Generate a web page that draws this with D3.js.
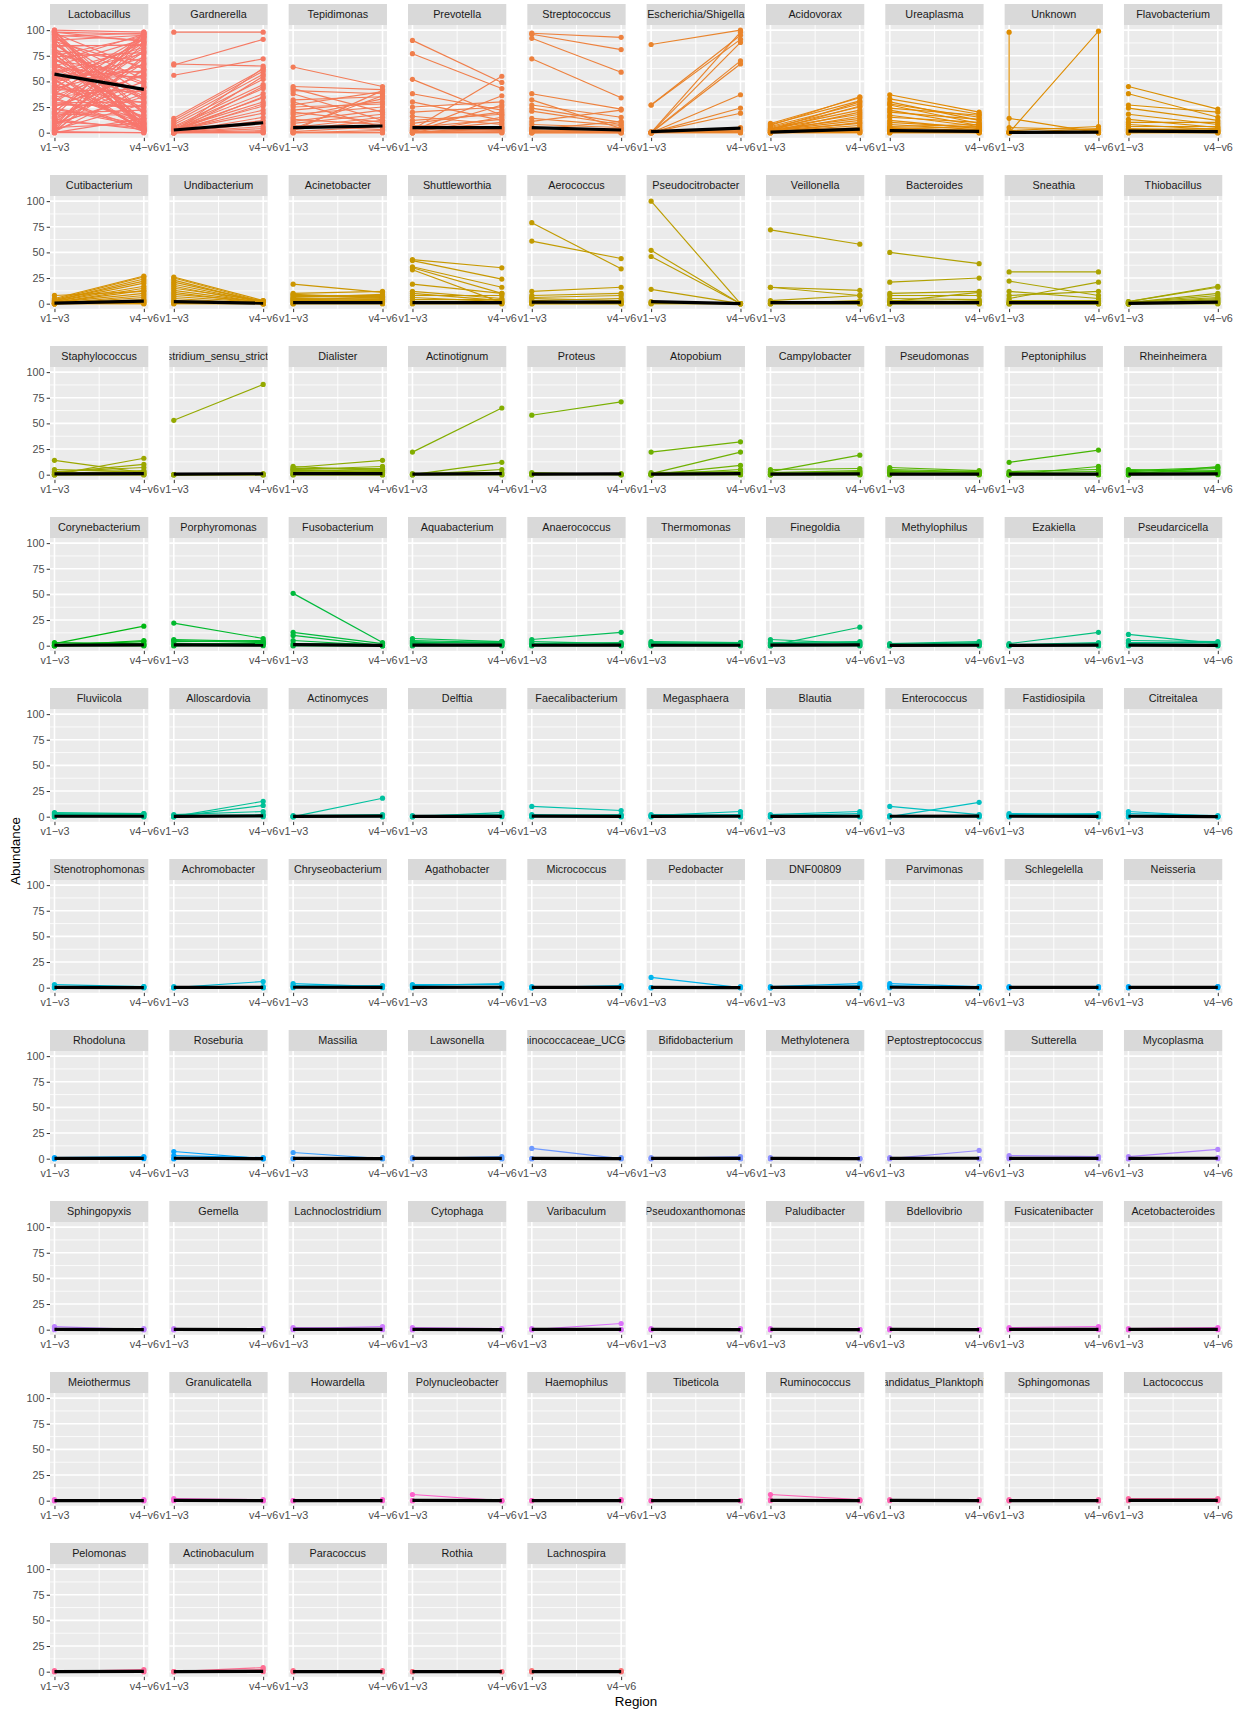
<!DOCTYPE html>
<html><head><meta charset="utf-8">
<script src="https://cdn.jsdelivr.net/npm/d3@7"></script>
<style>body{margin:0;background:#fff}svg text{font-family:"Liberation Sans",Arial,Helvetica,sans-serif}</style>
</head><body><svg id="chart" width="1245" height="1709"></svg>
<script>
// ---------------- DATA ----------------
const regions = ["v1\u2212v3", "v4\u2212v6"];
const yTicks = [0, 25, 50, 75, 100];
const genera = [
 "Lactobacillus","Gardnerella","Tepidimonas","Prevotella","Streptococcus","Escherichia/Shigella","Acidovorax","Ureaplasma","Unknown","Flavobacterium",
 "Cutibacterium","Undibacterium","Acinetobacter","Shuttleworthia","Aerococcus","Pseudocitrobacter","Veillonella","Bacteroides","Sneathia","Thiobacillus",
 "Staphylococcus","Clostridium_sensu_stricto_1","Dialister","Actinotignum","Proteus","Atopobium","Campylobacter","Pseudomonas","Peptoniphilus","Rheinheimera",
 "Corynebacterium","Porphyromonas","Fusobacterium","Aquabacterium","Anaerococcus","Thermomonas","Finegoldia","Methylophilus","Ezakiella","Pseudarcicella",
 "Fluviicola","Alloscardovia","Actinomyces","Delftia","Faecalibacterium","Megasphaera","Blautia","Enterococcus","Fastidiosipila","Citreitalea",
 "Stenotrophomonas","Achromobacter","Chryseobacterium","Agathobacter","Micrococcus","Pedobacter","DNF00809","Parvimonas","Schlegelella","Neisseria",
 "Rhodoluna","Roseburia","Massilia","Lawsonella","Ruminococcaceae_UCG-014","Bifidobacterium","Methylotenera","Peptostreptococcus","Sutterella","Mycoplasma",
 "Sphingopyxis","Gemella","Lachnoclostridium","Cytophaga","Varibaculum","Pseudoxanthomonas","Paludibacter","Bdellovibrio","Fusicatenibacter","Acetobacteroides",
 "Meiothermus","Granulicatella","Howardella","Polynucleobacter","Haemophilus","Tibeticola","Ruminococcus","Candidatus_Planktophila","Sphingomonas","Lactococcus",
 "Pelomonas","Actinobaculum","Paracoccus","Rothia","Lachnospira"
];
// abundance per sample at region v1-v3 (paired with v46 below)
const v13 = [
 [100,99,98,97,96,95,93,90,88,85,83,80,78,75,73,70,68,65,63,60,58,55,53,50,48,45,43,40,38,35,33,30,28,25,23,20,18,15,13,10,8,6,5,4,3,2,1,0,0,0,99,92,86,77,66,52,41,27,12,2,
  100,98,96,94,91,89,87,84,81,79,76,74,71,69,67,64,62,59,57,54,51,49,46,44,42,39,36,34,31,29,26,24,21,19,16,14,11,9,7,1],
 [98,67,66,56,14,12,10,8,6,5,4,3,3,2,2,2,1,1,1,1,0,0,0,0,0,0,0,0,0,0],
 [64,45,43,41,38,32,30,27,25,22,20,18,15,13,11,9,7,5,4,3,2,1,0,0,0],
 [90,77,52,38,30,25,20,16,12,9,7,5,4,3,2,2,1,1,0,0,0,0,0,0],
 [97,96,92,72,38,32,27,24,21,14,11,8,5,4,3,2,1,1,0,0,0,0],
 [86,27,27,0,0,0,0,0,0,0,0,0,1,0,0,0],
 [9,8,7,6,5,4,4,3,3,2,2,2,1,1,1,1,0,0,0,0,0,0],
 [37,33,30,28,27,24,22,20,17,15,12,10,8,6,5,4,3,2,1,0,0,0],
 [14,5,2,1,0,0,0,0],
 [45,38,27,24,18,13,10,8,6,4,3,2,1,0,0,0],
 [8,5,4,3,3,2,2,1,1,1,0,0,0,0,0,0,0,0],
 [26,25,23,21,19,17,15,13,11,9,7,5,3,2,0,0],
 [19,10,9,8,7,6,5,5,4,3,3,2,1,0,0,0],
 [43,42,36,35,33,19,12,10,8,6,4,2,0,0],
 [79,61,12,8,6,5,3,2,1,0,0,0],
 [100,52,46,14,2,1,0,0],
 [72,16,16,3,2,1,0,0,0,0],
 [50,21,10,8,5,3,2,1,0,0,0,0],
 [31,22,12,8,5,3,2,1,0,0,0,0],
 [2,2,1,1,1,0,0,0,0,0,0,0],
 [14,5,3,2,1,0,0,0,0,0],
 [53,0,0,0,0,0],
 [8,7,6,5,5,4,3,2,1,0,0,0],
 [22,0,0,1,0,0],
 [58,2,1,0,0],
 [22,1,0,0,2,0,0,0],
 [5,3,2,1,0,0,0,0],
 [7,5,4,3,2,1,0,0],
 [12,3,2,0,0,0,0],
 [5,4,3,2,1,0,0,0],
 [2,3,1,0,0,0,0],
 [22,6,5,4,2,0,0],
 [51,13,10,5,2,0,0],
 [7,5,4,3,2,1,0,0],
 [6,4,2,1,0,0],
 [4,3,2,1,0,0],
 [6,0,3,2,1,0,0],
 [2,1,1,0,0,0],
 [2,1,1,0,0,0],
 [11,5,3,2,0,0],
 [4,3,2,1,0,0],
 [0,0,2,1,0,0],
 [0,1,0,0,0],
 [0,1,0,0],
 [10,2,1,0,0],
 [1,2,1,0,0],
 [2,1,0,0,0],
 [10,0,1,0,0],
 [3,2,1,0,0],
 [5,3,1,0,0],
 [3,1,0,0],
 [0,1,0,0],
 [4,2,1,0],
 [3,2,1,0],
 [0,1,0,0],
 [10,0,0],
 [1,0,0,0],
 [4,2,1,0],
 [1,0,0],
 [1,0,0],
 [1,0,0],
 [7,3,0,0],
 [6,0,0],
 [0,1,0],
 [10,0,0],
 [0,1,0],
 [1,0,0],
 [0,1,0],
 [3,1,0],
 [2,0,0],
 [3,1,0],
 [1,0,0],
 [1,2,0],
 [2,0,0],
 [0,1,0],
 [1,0,0],
 [1,0,0],
 [0,1,0],
 [2,1,0],
 [1,0,0],
 [0,1,0],
 [2,1,0],
 [0,0],
 [6,0,0],
 [0,0],
 [0,0],
 [6,1,0],
 [1,0],
 [0,1,0],
 [2,1,0],
 [0,1,0],
 [0,0,0],
 [0,1,0],
 [0,0],
 [0,1,0]
];
// abundance per sample at region v4-v6
const v46 = [
 [98,4,96,62,2,90,38,95,11,85,3,70,47,94,8,58,21,91,34,2,77,14,55,88,4,29,66,9,92,44,1,80,25,57,6,93,17,50,3,72,38,97,9,87,28,62,44,14,75,0,20,52,33,6,41,2,82,26,68,93,
  7,89,18,97,5,64,31,86,2,49,13,78,36,96,10,53,24,83,1,60,4,73,16,94,40,12,67,3,88,30,56,8,79,22,98,45,5,35,61,0],
 [98,65,91,72,62,60,57,52,47,43,38,34,30,26,22,19,63,55,45,35,28,15,12,9,6,4,2,1,0,0],
 [45,42,20,38,12,35,5,40,28,30,10,25,33,8,22,18,3,15,36,12,41,6,2,0,0],
 [49,43,17,22,12,30,25,8,18,20,5,13,3,55,36,10,27,2,6,4,1,15,0,0],
 [93,81,59,34,23,4,15,10,8,7,22,5,2,3,11,1,0,4,2,0,0,0],
 [100,95,91,98,88,70,67,37,24,19,5,3,1,2,0,0],
 [34,31,35,28,25,22,18,30,14,12,26,9,20,7,5,16,3,10,2,1,0,0],
 [20,18,12,15,9,17,7,13,6,10,4,5,3,8,2,6,1,0,1,3,0,0],
 [0,3,6,1,2,4,0,0],
 [23,15,20,12,8,5,10,3,6,2,4,1,0,2,0,0],
 [12,27,26,24,22,20,17,15,13,10,8,6,4,3,2,1,0,0],
 [3,2,1,2,1,0,3,1,0,2,1,0,1,0,0,0],
 [11,12,6,8,7,9,4,6,5,3,7,2,1,4,0,0],
 [35,24,16,10,1,10,5,3,8,2,4,1,0,0],
 [34,44,16,10,8,3,5,1,2,0,0,0],
 [0,0,0,0,0,0,0,0],
 [58,13,8,8,2,1,3,0,0,0],
 [39,25,12,8,4,2,11,1,3,0,0,0],
 [31,8,5,12,21,3,2,1,0,0,0,0],
 [17,16,10,8,6,5,4,3,2,1,0,0],
 [2,3,7,10,4,16,1,0,0,0],
 [88,0,0,1,0,0],
 [4,14,6,3,8,5,2,4,1,0,0,0],
 [65,12,5,2,0,0],
 [71,0,0,1,0],
 [32,22,9,5,3,1,0,0],
 [6,19,4,2,3,1,0,0],
 [4,3,2,3,1,0,1,0],
 [24,5,3,8,1,0,0],
 [3,7,6,4,2,8,1,0],
 [19,2,4,5,1,0,0],
 [7,4,3,5,2,1,0],
 [3,2,0,0,1,0,0],
 [4,3,2,3,4,1,0,0],
 [13,2,3,1,0,0],
 [3,2,3,1,0,0],
 [2,18,4,3,1,0,0],
 [4,3,2,1,0,0],
 [13,3,1,2,0,0],
 [2,4,3,1,0,0],
 [3,2,3,1,0,0],
 [15,11,5,2,1,0],
 [18,2,1,0,0],
 [4,2,1,0],
 [6,1,2,0,0],
 [5,1,2,0,0],
 [5,3,1,0,0],
 [2,14,1,0,0],
 [2,3,1,0,0],
 [0,1,0,0,0],
 [1,0,1,0],
 [6,1,0,0],
 [1,1,2,0],
 [3,4,1,0],
 [2,1,1,0],
 [0,1,0],
 [4,2,1,0],
 [1,0,1,0],
 [1,0,0],
 [1,1,0],
 [2,1,0],
 [0,1,0,0],
 [0,1,0],
 [2,0,0],
 [0,1,0],
 [2,0,0],
 [0,0,0],
 [8,0,0],
 [2,1,0],
 [9,1,0],
 [0,1,0],
 [1,0,0],
 [3,1,0],
 [1,0,0],
 [6,0,0],
 [1,0,0],
 [0,0,0],
 [0,0,0],
 [3,1,0],
 [2,1,0],
 [1,0,0],
 [1,0,0],
 [1,0],
 [0,0,0],
 [1,0],
 [0,0],
 [1,0,0],
 [1,0],
 [1,0,0],
 [2,1,0],
 [2,0,0],
 [4,2,0],
 [1,0,0],
 [0,0],
 [1,0,0]
];
// mean abundance per region (black line)
const meanV13 = [
 57.1,2.6,4.9,4.9,4.9,1.0,0.5,2.0,0.3,1.5,
 0.5,2.0,1.0,1.0,1.5,2.0,1.0,1.0,1.0,0.3,
 0.8,0.6,1.0,0.5,0.6,0.5,0.5,0.6,0.5,0.5,
 0.4,0.8,1.0,0.6,0.4,0.4,0.5,0.3,0.3,0.5,
 0.4,0.2,0.2,0.2,0.5,0.3,0.3,0.4,0.4,0.4,
 0.3,0.2,0.4,0.3,0.2,0.3,0.2,0.4,0.2,0.2,
 0.2,0.4,0.3,0.2,0.3,0.2,0.2,0.2,0.3,0.2,
 0.3,0.2,0.3,0.3,0.2,0.2,0.2,0.2,0.3,0.2,
 0.1,0.3,0.1,0.3,0.1,0.1,0.3,0.2,0.1,0.3,
 0.1,0.1,0.1,0.1,0.1
];
const meanV46 = [
 42.2,9.7,6.5,4.9,2.6,4.5,3.5,1.3,0.5,1.0,
 2.5,0.5,1.0,1.0,1.5,0.0,1.0,1.0,1.0,1.5,
 1.0,0.9,1.0,1.0,0.7,1.0,0.8,0.5,0.6,0.8,
 0.8,0.6,0.2,0.5,0.6,0.4,0.7,0.4,0.5,0.3,
 0.4,0.7,0.5,0.3,0.3,0.4,0.4,0.5,0.3,0.1,
 0.1,0.3,0.2,0.4,0.2,0.1,0.3,0.1,0.2,0.2,
 0.2,0.1,0.1,0.2,0.1,0.2,0.0,0.4,0.2,0.4,
 0.1,0.1,0.3,0.1,0.3,0.1,0.0,0.0,0.3,0.2,
 0.1,0.1,0.1,0.0,0.1,0.0,0.1,0.1,0.1,0.3,
 0.2,0.3,0.1,0.0,0.1
];
// samples with two rows for one region (drawn as one path: [regionIndex 1|2, value])
const extraPaths = [
 { genus: "Unknown", pts: [[1,98],[1,0],[2,99],[2,0]] }
];

// ---------------- LAYOUT ----------------
const nCol = 10, colPitch = 119.33, panelW = 98.3, left0 = 50;
const rowPitch = 171, top0 = 4, stripH = 21, panelH = 112.8;
const FS = 10.8;

function hcl2hex(h, c, l) {
  const hr = h * Math.PI / 180;
  const U = c * Math.cos(hr), V = c * Math.sin(hr);
  const Xn = 95.047, Yn = 100, Zn = 108.883;
  const Y = Yn * (l > 8 ? Math.pow((l + 16) / 116, 3) : l / 903.3);
  const den = Xn + 15 * Yn + 3 * Zn;
  const un = 4 * Xn / den, vn = 9 * Yn / den;
  const u = U / (13 * l) + un, v = V / (13 * l) + vn;
  const X = 9 * Y * u / (4 * v);
  const Z = -X / 3 - 5 * Y + 3 * Y / v;
  const x = X / 100, yy = Y / 100, z = Z / 100;
  const lin = [
    3.240479 * x - 1.537150 * yy - 0.498535 * z,
    -0.969256 * x + 1.875992 * yy + 0.041556 * z,
    0.055648 * x - 0.204043 * yy + 1.057311 * z
  ];
  return "#" + lin.map(t => {
    let g = t <= 0.0031308 ? 12.92 * t : 1.055 * Math.pow(t, 1 / 2.4) - 0.055;
    g = Math.max(0, Math.min(1, g));
    return Math.round(g * 255).toString(16).padStart(2, "0");
  }).join("");
}

const svg = d3.select("#chart");
svg.append("rect").attr("width", 1245).attr("height", 1709).attr("fill", "#fff");
const n = genera.length;
const colors = genera.map((g, i) => hcl2hex(15 + i * 360 / n, 100, 65));
const defs = svg.append("defs");

genera.forEach((name, i) => {
  const col = i % nCol, row = Math.floor(i / nCol);
  const x0 = left0 + col * colPitch;
  const sTop = top0 + row * rowPitch, pTop = sTop + stripH, pBot = pTop + panelH;
  const x = d3.scaleLinear().domain([0.95, 2.05]).range([x0, x0 + panelW]);
  const y = d3.scaleLinear().domain([-5, 105]).range([pBot, pTop]);
  const g = svg.append("g");
  const color = colors[i];

  // panel background
  g.append("rect").attr("x", x0).attr("y", pTop).attr("width", panelW).attr("height", panelH).attr("fill", "#EBEBEB");
  // minor grid
  [12.5, 37.5, 62.5, 87.5].forEach(v => g.append("line").attr("x1", x0).attr("x2", x0 + panelW)
    .attr("y1", y(v)).attr("y2", y(v)).attr("stroke", "#fff").attr("stroke-width", 0.8));
  [1.5].forEach(v => g.append("line").attr("x1", x(v)).attr("x2", x(v))
    .attr("y1", pTop).attr("y2", pBot).attr("stroke", "#fff").attr("stroke-width", 0.9));
  // major grid
  yTicks.forEach(v => g.append("line").attr("x1", x0).attr("x2", x0 + panelW)
    .attr("y1", y(v)).attr("y2", y(v)).attr("stroke", "#fff").attr("stroke-width", 1.6));
  [1, 2].forEach(v => g.append("line").attr("x1", x(v)).attr("x2", x(v))
    .attr("y1", pTop).attr("y2", pBot).attr("stroke", "#fff").attr("stroke-width", 1.6));

  // strip
  defs.append("clipPath").attr("id", "clip" + i).append("rect")
    .attr("x", x0).attr("y", sTop).attr("width", panelW).attr("height", stripH);
  g.append("rect").attr("x", x0).attr("y", sTop).attr("width", panelW).attr("height", stripH).attr("fill", "#D9D9D9");
  g.append("text").attr("clip-path", "url(#clip" + i + ")")
    .attr("x", x0 + panelW / 2).attr("y", sTop + stripH / 2).attr("dy", "0.35em")
    .attr("text-anchor", "middle").attr("font-size", FS).attr("fill", "#1A1A1A").text(name);

  // data
  const a = v13[i], b = v46[i];
  const m = Math.min(a.length, b.length);
  const pairs = d3.range(m).map(k => [a[k], b[k]]);
  const lineGen = d3.line().x(d => x(d[0])).y(d => y(d[1]));
  const dl = g.append("g");
  pairs.forEach(p => {
    dl.append("path").attr("d", lineGen([[1, p[0]], [2, p[1]]]))
      .attr("fill", "none").attr("stroke", color).attr("stroke-width", 1.15);
  });
  extraPaths.filter(e => e.genus === name).forEach(e => {
    dl.append("path").attr("d", lineGen(e.pts)).attr("fill", "none").attr("stroke", color).attr("stroke-width", 1.15);
  });
  const pts = [];
  pairs.forEach(p => { pts.push([1, p[0]]); pts.push([2, p[1]]); });
  extraPaths.filter(e => e.genus === name).forEach(e => e.pts.forEach(q => pts.push(q)));
  dl.selectAll("circle.pt").data(pts).enter().append("circle")
    .attr("cx", d => x(d[0])).attr("cy", d => y(d[1])).attr("r", 2.6).attr("fill", color);
  // mean line
  dl.append("path").attr("d", lineGen([[1, meanV13[i]], [2, meanV46[i]]]))
    .attr("fill", "none").attr("stroke", "#000").attr("stroke-width", 3.2);

  // x axis
  const xa = g.append("g").attr("transform", `translate(0,${pBot})`)
    .call(d3.axisBottom(x).tickValues([1, 2]).tickFormat((d, k) => regions[k]).tickSize(3.3).tickPadding(2.2));
  xa.select(".domain").remove();
  xa.selectAll(".tick line").attr("stroke", "#333333").attr("stroke-width", 1);
  xa.selectAll(".tick text").attr("fill", "#4D4D4D").attr("font-size", FS)
    .attr("font-family", '"Liberation Sans",Arial,sans-serif');

  // y axis
  if (col === 0) {
    const ya = g.append("g").attr("transform", `translate(${x0},0)`)
      .call(d3.axisLeft(y).tickValues(yTicks).tickSize(3.3).tickPadding(2.2));
    ya.select(".domain").remove();
    ya.selectAll(".tick line").attr("stroke", "#333333").attr("stroke-width", 1);
    ya.selectAll(".tick text").attr("fill", "#4D4D4D").attr("font-size", FS)
      .attr("font-family", '"Liberation Sans",Arial,sans-serif');
  }
});

// axis titles
svg.append("text").attr("x", 636).attr("y", 1706).attr("text-anchor", "middle")
  .attr("font-size", 13.4).attr("fill", "#000").text("Region");
svg.append("text").attr("transform", "translate(19.5,851) rotate(-90)").attr("text-anchor", "middle")
  .attr("font-size", 13.4).attr("fill", "#000").text("Abundance");
</script></body></html>
